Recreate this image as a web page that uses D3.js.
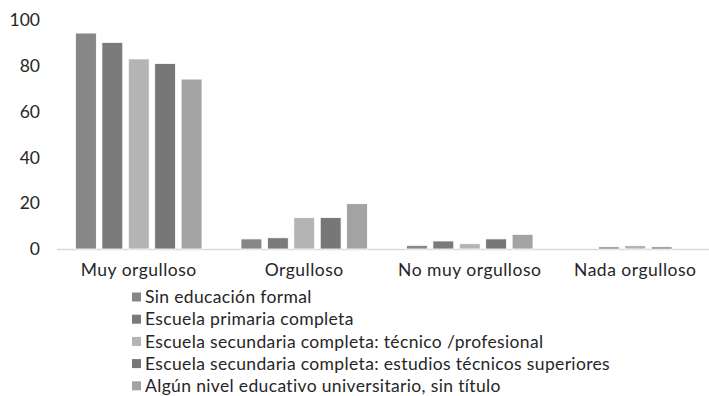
<!DOCTYPE html>
<html><head><meta charset="utf-8">
<script src="https://cdn.jsdelivr.net/npm/d3@7"></script>
<style>body{margin:0;background:#fff}svg{display:block}text{font-family:Lato,"Open Sans",sans-serif;fill:#262626}</style>
</head><body>
<svg id="c" width="709" height="396"></svg>
<script>
const categories = ["Muy orgulloso","Orgulloso","No muy orgulloso","Nada orgulloso"];
const seriesNames = ["Sin educación formal","Escuela primaria completa","Escuela secundaria completa: técnico /profesional","Escuela secundaria completa: estudios técnicos superiores","Algún nivel educativo universitario, sin título"];
const s1 = [94.3, 4.4, 1.6, 0];
const s2 = [90.2, 4.9, 3.5, 0.9];
const s3 = [83.0, 13.7, 2.3, 1.5];
const s4 = [81.0, 13.7, 4.4, 0.9];
const s5 = [74.2, 19.8, 6.4, 0];
const yTicks = [0,20,40,60,80,100];
const colors = ["#878787","#7a7a7a","#b4b4b4","#777777","#a3a3a3"];

const series = [s1,s2,s3,s4,s5];
const svg = d3.select("#c");
const y = d3.scaleLinear().domain([0,100]).range([249,20]);
const x0 = d3.scaleBand().domain(categories).range([56,718]);
const x1 = d3.scaleBand().domain(d3.range(5)).range([0,126.5]).paddingInner(0.21).paddingOuter(0);
const groupOffset = (x0.bandwidth()-126.5)/2;

svg.append("line").attr("x1",57).attr("x2",709).attr("y1",y(0)+0.5).attr("y2",y(0)+0.5).attr("stroke","#d9d9d9").attr("stroke-width",1.5);

const yAxis = d3.axisLeft(y).tickValues(yTicks).tickSize(0).tickPadding(0);
const ya = svg.append("g").attr("transform","translate(40,0)").call(yAxis);
ya.select(".domain").remove();
ya.selectAll("text").style("font-size","17.5px").attr("fill","#262626").style("font-family",'Lato,"Open Sans",sans-serif');

series.forEach((vals,si)=>{
  svg.append("g").selectAll("rect").data(vals.map((v,ci)=>({v,c:categories[ci]}))).join("rect")
    .attr("x",d=>x0(d.c)+groupOffset+x1(si))
    .attr("width",x1.bandwidth())
    .attr("y",d=>y(d.v))
    .attr("height",d=>y(0)-y(d.v))
    .attr("fill",colors[si])
    .attr("stroke",d=>d.v>0?"#ffffff":"none").attr("stroke-width",0.8);
});

const xAxis = d3.axisBottom(x0).tickSize(0).tickPadding(0);
const xa = svg.append("g").attr("transform","translate(0,264)").call(xAxis);
xa.select(".domain").remove();
xa.selectAll("text").style("font-size","17.5px").style("letter-spacing","0.5px").attr("fill","#262626").style("font-family",'Lato,"Open Sans",sans-serif');

const lg = svg.append("g");
seriesNames.forEach((n,i)=>{
  const cy = 297 + i*22.2;
  lg.append("rect").attr("x",132).attr("y",cy-4.5).attr("width",9).attr("height",9).attr("fill",colors[i]);
  lg.append("text").attr("x",145).attr("y",cy).attr("dy","0.35em").style("font-size","17.5px").style("letter-spacing","0.35px").text(n);
});
</script>
</body></html>
